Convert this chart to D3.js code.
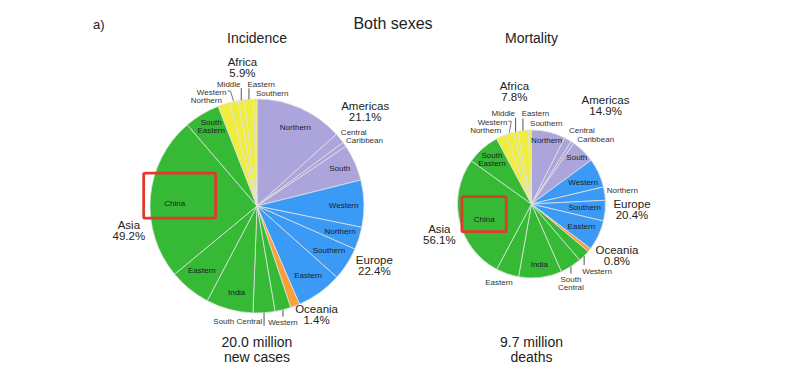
<!DOCTYPE html>
<html>
<head>
<meta charset="utf-8">
<script src="https://cdn.jsdelivr.net/npm/d3@7"></script>
<style>
  body { margin: 0; background: #fff; }
  svg { display: block; font-family: "Liberation Sans", Arial, sans-serif; }
</style>
</head>
<body>
<svg id="chart" width="789" height="371"></svg>
<script>
// regions, clockwise from 12 o'clock
const regionNames = ['Americas', 'Europe', 'Oceania', 'Asia', 'Africa'];
const regionColors = ['#aba5dc', '#3a9af6', '#f7a03a', '#36b934', '#efed3d'];

const subregionNames = [
  'Northern', 'Central', 'Caribbean', 'South',
  'Western', 'Northern', 'Southern', 'Eastern',
  'Oceania',
  'Western', 'South Central', 'India', 'Eastern', 'China', 'South Eastern',
  'Northern', 'Western', 'Middle', 'Eastern', 'Southern'
];
const subregionRegion = [0, 0, 0, 0, 1, 1, 1, 1, 2, 3, 3, 3, 3, 3, 3, 4, 4, 4, 4, 4];

// share of world total, %
const incidenceValues = [13.3, 1.6, 0.7, 5.5, 7.1, 3.4, 5.0, 6.9, 1.4, 2.4, 3.3, 7.1, 6.3, 24.7, 5.4, 1.8, 1.3, 0.9, 1.4, 0.5];
const mortalityValues = [7.4, 1.6, 0.7, 5.2, 6.4, 2.9, 4.5, 6.6, 0.8, 2.6, 4.7, 9.4, 5.0, 27.1, 7.3, 2.2, 1.7, 0.9, 2.3, 0.7];

const incidencePct = ['21.1%', '22.4%', '1.4%', '49.2%', '5.9%'];
const mortalityPct = ['14.9%', '20.4%', '0.8%', '56.1%', '7.8%'];
const incidenceTotal = ['20.0 million', 'new cases'];
const mortalityTotal = ['9.7 million', 'deaths'];

// label placement: groups [region, radius factor, angle offset deg]
// inside [slice, radius factor, angle offset deg]
const panels = [
  {
    title: 'Incidence', values: incidenceValues, pct: incidencePct, total: incidenceTotal,
    cx: 257, cy: 206, r: 107,
    groups: [[0, 1.34, 11], [1, 1.23, 0.6], [2, 1.16, -7.8], [3, 1.22, 8.8], [4, 1.30, 4.6]],
    inside: [[0, 0.82, 2], [3, 0.85, -0.7], [4, 0.81, 0.6], [5, 0.81, -1], [6, 0.79, -1.1],
      [7, 0.80, -0.8], [11, 0.83, -1.7], [12, 0.79, 1.7], [13, 0.77, -2.9], [14, 0.86, 1.1]],
    outside: [
      {i: 1, anchor: 'start', dx: 1, dy: -6.5},
      {i: 2, anchor: 'start', dx: 1.5, dy: -4},
      {i: 15, anchor: 'end', dx: -2, dy: -4.5},
      {i: 16, anchor: 'end', dx: -7.5, dy: -9.5, leader: true},
      {i: 17, anchor: 'end', dx: -0.7, dy: -15.9, tick: -12},
      {i: 18, anchor: 'start', dx: -1.5, dy: -15, tick: -11},
      {i: 19, anchor: 'start', dx: 0.7, dy: -6.3},
      {i: 10, anchor: 'end', dx: -1.8, dy: 8.9, tick: 13},
      {i: 9, anchor: 'middle', dx: 0, dy: 12, tick: 7}
    ],
    box: [-31, -30, 41, 15]
  },
  {
    title: 'Mortality', values: mortalityValues, pct: mortalityPct, total: mortalityTotal,
    cx: 531.5, cy: 204, r: 74,
    groups: [[0, 1.67, 10], [1, 1.36, 2.5], [2, 1.35, -7.3], [3, 1.31, 21], [4, 1.54, 5.4]],
    inside: [[0, 0.89, 0], [3, 0.88, -0.2], [4, 0.76, 1.5], [6, 0.72, -2.3], [7, 0.74, -0.9],
      [11, 0.82, -0.6], [13, 0.67, -4.4], [14, 0.81, -0.1]],
    outside: [
      {i: 1, anchor: 'start', dx: 1, dy: -9.2},
      {i: 2, anchor: 'start', dx: 4.7, dy: -3.6},
      {i: 5, anchor: 'start', dx: 2, dy: -3},
      {i: 15, anchor: 'end', dx: 0, dy: -6},
      {i: 16, anchor: 'end', dx: -2.4, dy: -11, leader: true},
      {i: 17, anchor: 'end', dx: -0.5, dy: -18.4, tick: -14},
      {i: 18, anchor: 'start', dx: -1.2, dy: -17.2, tick: -12},
      {i: 19, anchor: 'start', dx: 0.2, dy: -7.3},
      {i: 12, anchor: 'middle', dx: -8.3, dy: 7.8},
      {i: 10, anchor: 'middle', dx: 0, dy: 12.7, tick: 7, split: true},
      {i: 9, anchor: 'start', dx: -1.9, dy: 15, tick: 9}
    ],
    box: [-22.3, -22.3, 22, 12.7]
  }
];

const svg = d3.select('#chart');
const pie = d3.pie().sort(null).value(d => d).startAngle(0).endAngle(2 * Math.PI);
const rad = Math.PI / 180;

function addText(g, x, y, lines, size, anchor, lh, fill) {
  const t = g.append('text')
    .attr('x', x).attr('y', y)
    .attr('text-anchor', anchor)
    .attr('font-size', size)
    .attr('fill', fill || '#222');
  lines.forEach((s, k) => {
    t.append('tspan')
      .attr('x', x)
      .attr('y', y + (k - (lines.length - 1) / 2) * lh)
      .attr('dy', '0.35em')
      .text(s);
  });
  return t;
}

addText(svg, 93, 24, ['a)'], 13, 'start', 0);
addText(svg, 393, 23, ['Both sexes'], 16, 'middle', 0);

panels.forEach(p => {
  const g = svg.append('g');
  const arcs = pie(p.values);
  const arc = d3.arc().innerRadius(0).outerRadius(p.r);
  const at = (a, d) => [p.cx + d * Math.sin(a), p.cy - d * Math.cos(a)];
  const mid = d => (d.startAngle + d.endAngle) / 2;

  g.append('g')
    .attr('transform', `translate(${p.cx},${p.cy})`)
    .selectAll('path')
    .data(arcs)
    .join('path')
    .attr('d', arc)
    .attr('fill', d => regionColors[subregionRegion[d.index]])
    .attr('stroke', '#e2e2e2')
    .attr('stroke-width', 0.8);

  addText(g, p.cx, 38, [p.title], 14, 'middle', 0);
  addText(g, p.cx, 350, p.total, 14, 'middle', 15);

  // region names + shares
  p.groups.forEach(([ri, k, da]) => {
    const own = arcs.filter(d => subregionRegion[d.index] === ri);
    const a = (d3.min(own, d => d.startAngle) + d3.max(own, d => d.endAngle)) / 2 + da * rad;
    const [x, y] = at(a, k * p.r);
    addText(g, x, y, [regionNames[ri], p.pct[ri]], 11.5, 'middle', 11);
  });

  // labels inside slices
  p.inside.forEach(([i, k, da]) => {
    const [x, y] = at(mid(arcs[i]) + da * rad, k * p.r);
    addText(g, x, y, subregionNames[i].split(' '), 8, 'middle', 8.5, '#1c1c2a');
  });

  // labels outside, with ticks or leaders
  p.outside.forEach(o => {
    const [ex, ey] = at(mid(arcs[o.i]), p.r);
    if (o.tick) {
      g.append('line')
        .attr('x1', ex).attr('x2', ex)
        .attr('y1', ey).attr('y2', ey + o.tick)
        .attr('stroke', '#555').attr('stroke-width', 1);
    }
    if (o.leader) {
      const tx = ex + o.dx, ty = ey + o.dy;
      g.append('path')
        .attr('d', `M${tx + 1},${ty - 1}H${tx + 4}L${ex - 0.5},${ey - 0.5}`)
        .attr('fill', 'none')
        .attr('stroke', '#555').attr('stroke-width', 0.8);
    }
    const lines = o.split ? subregionNames[o.i].split(' ') : [subregionNames[o.i]];
    const ty = ey + o.dy + (lines.length - 1) * 4;
    addText(g, ex + o.dx, ty, lines, 8, o.anchor, 8, '#333');
  });

  // highlight box around China
  const china = p.inside.find(d => d[0] === 13);
  const [bx, by] = at(mid(arcs[13]) + china[2] * rad, china[1] * p.r);
  g.append('rect')
    .attr('x', bx + p.box[0]).attr('y', by + p.box[1])
    .attr('width', p.box[2] - p.box[0]).attr('height', p.box[3] - p.box[1])
    .attr('rx', 1.5)
    .attr('fill', 'none')
    .attr('stroke', '#e03a2b')
    .attr('stroke-width', 2.8);
});
</script>
</body>
</html>
